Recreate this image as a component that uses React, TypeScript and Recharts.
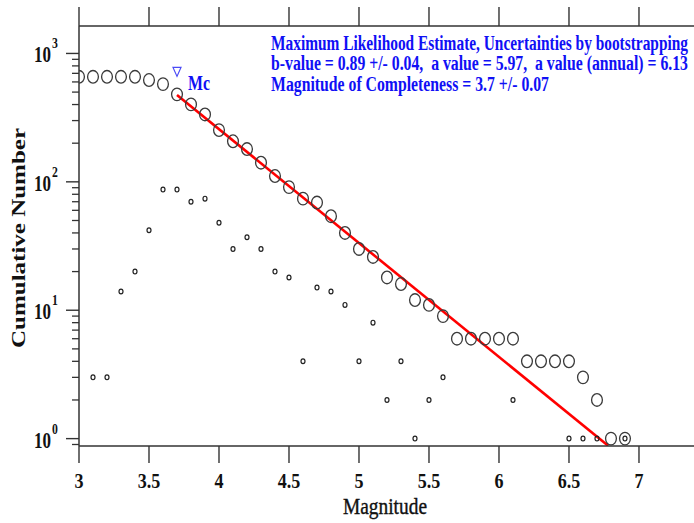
import { ComposedChart, Scatter, Line, XAxis, YAxis } from "recharts";

const magnitudes = [
  3.0, 3.1, 3.2, 3.3, 3.4, 3.5, 3.6, 3.7, 3.8, 3.9,
  4.0, 4.1, 4.2, 4.3, 4.4, 4.5, 4.6, 4.7, 4.8, 4.9,
  5.0, 5.1, 5.2, 5.3, 5.4, 5.5, 5.6, 5.7, 5.8, 5.9,
  6.0, 6.1, 6.2, 6.3, 6.4, 6.5, 6.6, 6.7, 6.8, 6.9,
];
const cumulativeCounts = [
  658, 658, 658, 658, 658, 621, 577, 480, 401, 335,
  253, 207, 180, 141, 111, 91, 74, 69, 54, 40,
  30, 26, 18, 16, 12, 11, 9, 6, 6, 6,
  6, 6, 4, 4, 4, 4, 3, 2, 1, 1,
];

const binMagnitudes = [
  3.1, 3.2, 3.3, 3.4, 3.5, 3.6, 3.7, 3.8, 3.9, 4.0,
  4.1, 4.2, 4.3, 4.4, 4.5, 4.6, 4.7, 4.8, 4.9, 5.0,
  5.1, 5.2, 5.3, 5.4, 5.5, 5.6, 6.1, 6.5, 6.6, 6.7, 6.9,
];
const binCounts = [
  3, 3, 14, 20, 42, 87, 87, 70, 74, 48,
  30, 37, 30, 20, 18, 4, 15, 14, 11, 4,
  8, 2, 4, 1, 2, 3, 2, 1, 1, 1, 1,
];

// fitted G-R line, end points
const fitMagnitudes = [3.7, 6.78];
const fitCounts = [475, 0.88];

const mc = 3.7;
const mcCount = 480;

const xTicks = [3, 3.5, 4, 4.5, 5, 5.5, 6, 6.5, 7];
const yTicks = [
  0.9, 1, 2, 3, 4, 5, 6, 7, 8, 9,
  10, 20, 30, 40, 50, 60, 70, 80, 90,
  100, 200, 300, 400, 500, 600, 700, 800, 900, 1000,
];

const titleLines = [
  "Maximum Likelihood Estimate, Uncertainties by bootstrapping",
  "b-value = 0.89 +/- 0.04,  a value = 5.97,  a value (annual) = 6.13",
  "Magnitude of Completeness = 3.7 +/- 0.07",
];

const cumData = magnitudes.map((m, i) => ({ m, n: cumulativeCounts[i] }));
const binData = binMagnitudes.map((m, i) => ({ m, n: binCounts[i] }));
const fitData = fitMagnitudes.map((m, i) => ({ m, n: fitCounts[i] }));
const mcData = [{ m: mc, n: mcCount }];

const FONT = "'Liberation Serif', 'Times New Roman', serif";
const AXIS = "#333";
const BLUE = "#1010f5";

function BottomTick({ x, y, payload }: any) {
  return (
    <g>
      <line x1={x} y1={y} x2={x} y2={y + 17} stroke={AXIS} strokeWidth={1.4} />
      <g transform={`translate(${x},${y + 42}) scale(0.82,1)`}>
        <text textAnchor="middle" fontFamily={FONT} fontWeight="bold" fontSize={22} fill="#111">
          {String(payload.value)}
        </text>
      </g>
    </g>
  );
}

function TopTick({ x, y }: any) {
  return <line x1={x} y1={y} x2={x} y2={y - 19} stroke={AXIS} strokeWidth={1.4} />;
}

function LeftTick({ x, y, payload }: any) {
  const v = payload.value;
  const exp = Math.round(Math.log10(v));
  const major = Math.abs(v - Math.pow(10, exp)) < 1e-6 * v;
  if (!major) {
    return <line x1={x - 7} y1={y} x2={x} y2={y} stroke={AXIS} strokeWidth={1.3} />;
  }
  return (
    <g>
      <line x1={x - 13} y1={y} x2={x} y2={y} stroke={AXIS} strokeWidth={1.4} />
      <g transform={`translate(${x - 28},${y + 9}) scale(0.74,1)`}>
        <text textAnchor="end" fontFamily={FONT} fontWeight="bold" fontSize={23} fill="#111">
          10
        </text>
      </g>
      <g transform={`translate(${x - 27},${y - 5}) scale(0.78,1)`}>
        <text fontFamily={FONT} fontWeight="bold" fontSize={15} fill="#111">
          {exp}
        </text>
      </g>
    </g>
  );
}

const BigCircle = ({ cx, cy }: any) => (
  <ellipse cx={cx} cy={cy} rx={5.4} ry={6.3} fill="none" stroke="#3a3a3a" strokeWidth={1.3} />
);
const SmallCircle = ({ cx, cy }: any) => (
  <ellipse cx={cx} cy={cy} rx={2} ry={2.4} fill="none" stroke="#222" strokeWidth={1.2} />
);
const McMarker = ({ cx, cy }: any) => (
  <g>
    <polygon
      points={`${cx - 4},${cy - 27} ${cx + 4},${cy - 27} ${cx},${cy - 18}`}
      fill="none"
      stroke="#4a4af5"
      strokeWidth={1.2}
    />
    <text
      x={cx + 11}
      y={cy - 4}
      fontFamily={FONT}
      fontWeight="bold"
      fontSize={21}
      fill={BLUE}
      textLength={22}
      lengthAdjust="spacingAndGlyphs"
    >
      Mc
    </text>
  </g>
);

export default function App() {
  return (
    <div style={{ position: "absolute", left: 0, top: 0, width: 694, height: 523, background: "#fff" }}>
      <ComposedChart width={694} height={523} margin={{ top: 0, right: 0, bottom: 0, left: 0 }}>
        <XAxis
          dataKey="m"
          type="number"
          domain={[3, 7.393]}
          allowDataOverflow
          ticks={xTicks}
          interval={0}
          height={77}
          tickSize={0}
          tickMargin={0}
          tickLine={false}
          axisLine={{ stroke: AXIS, strokeWidth: 1.5 }}
          tick={<BottomTick />}
        />
        <XAxis
          xAxisId="top"
          orientation="top"
          dataKey="m"
          type="number"
          domain={[3, 7.393]}
          allowDataOverflow
          ticks={xTicks}
          interval={0}
          height={26}
          tickSize={0}
          tickMargin={0}
          tickLine={false}
          axisLine={{ stroke: AXIS, strokeWidth: 1.5 }}
          tick={<TopTick />}
        />
        <YAxis
          dataKey="n"
          type="number"
          scale="log"
          domain={[0.876, 1636]}
          allowDataOverflow
          ticks={yTicks}
          interval={0}
          width={79}
          tickSize={0}
          tickMargin={0}
          tickLine={false}
          axisLine={{ stroke: AXIS, strokeWidth: 1.5 }}
          tick={<LeftTick />}
        />
        <Line
          data={fitData}
          dataKey="n"
          type="linear"
          stroke="#ff0000"
          strokeWidth={2.6}
          dot={false}
          activeDot={false}
          isAnimationActive={false}
        />
        <Scatter data={binData} dataKey="n" shape={<SmallCircle />} isAnimationActive={false} />
        <Scatter data={cumData} dataKey="n" shape={<BigCircle />} isAnimationActive={false} />
        <Scatter data={mcData} dataKey="n" shape={<McMarker />} isAnimationActive={false} />
      </ComposedChart>
      <svg
        width={694}
        height={523}
        style={{ position: "absolute", left: 0, top: 0, pointerEvents: "none" }}
      >
        {titleLines.map((t, i) => (
          <g key={i} transform={`translate(271,${50 + i * 20.3}) scale(1,1.28)`}>
            <text
              x={0}
              y={0}
              fontFamily={FONT}
              fontWeight="bold"
              fontSize={15.6}
              fill={BLUE}
              textLength={i === 2 ? 278 : 417}
              lengthAdjust="spacingAndGlyphs"
              style={{ whiteSpace: "pre" }}
            >
              {t}
            </text>
          </g>
        ))}
        <text
          transform="translate(25,238) rotate(-90)"
          textAnchor="middle"
          fontFamily={FONT}
          fontWeight="bold"
          fontSize={19}
          fill="#111"
          textLength={220}
          lengthAdjust="spacingAndGlyphs"
        >
          Cumulative Number
        </text>
        <text
          x={343}
          y={514}
          fontFamily={FONT}
          fontSize={23}
          fill="#111"
          stroke="#111"
          strokeWidth={0.4}
          textLength={84}
          lengthAdjust="spacingAndGlyphs"
        >
          Magnitude
        </text>
      </svg>
    </div>
  );
}
